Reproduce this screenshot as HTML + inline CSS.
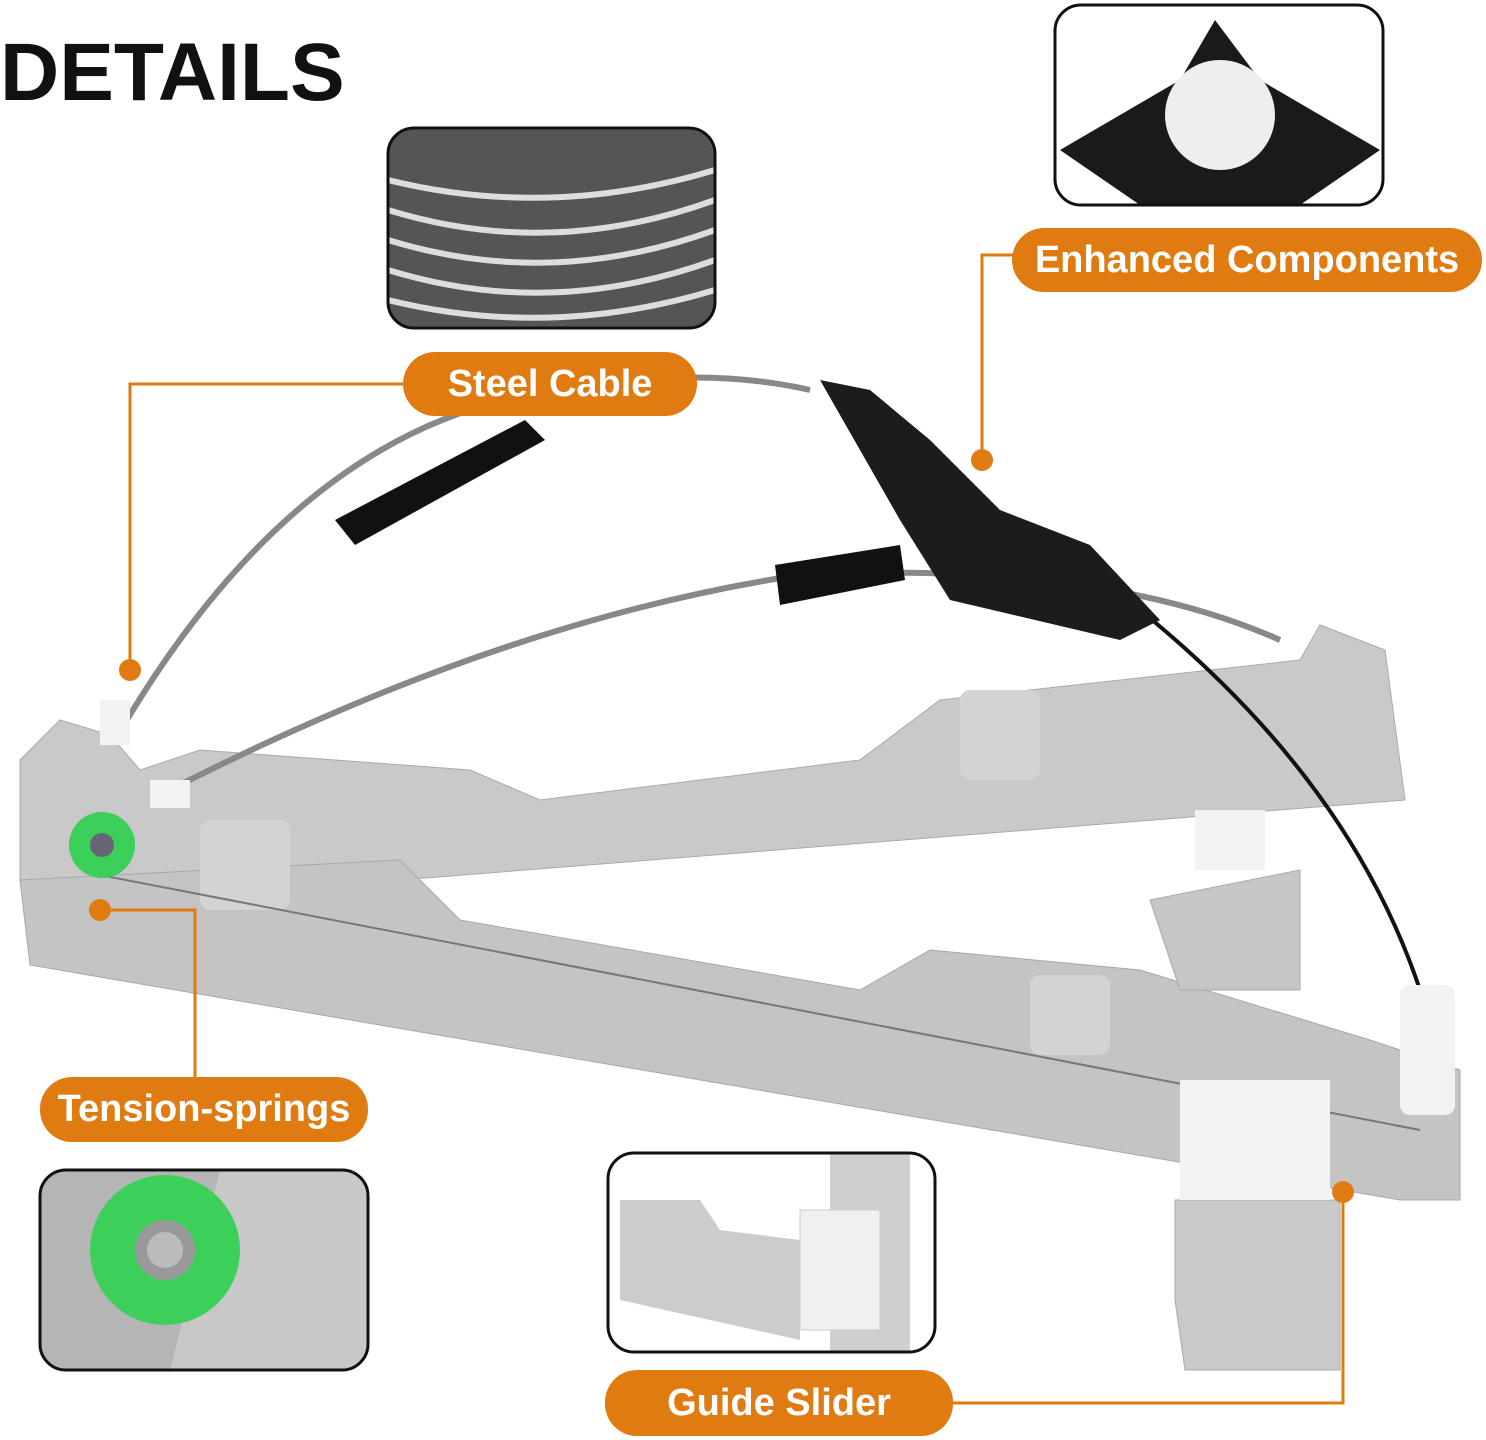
<!DOCTYPE html>
<html><head><meta charset="utf-8"><style>
body{margin:0;width:1486px;height:1440px;background:#fff;overflow:hidden;font-family:"Liberation Sans",sans-serif}
.pill{position:absolute;background:#e07b12;color:#fff;border-radius:32px;display:flex;align-items:center;justify-content:center;font-size:38px;font-weight:bold}
</style></head><body>
<svg width="1486" height="1440" style="position:absolute;left:0;top:0">
<defs>
<clipPath id="c1"><rect x="388" y="128" width="327" height="200" rx="26"/></clipPath>
<clipPath id="c2"><rect x="1055" y="5" width="328" height="200" rx="26"/></clipPath>
<clipPath id="c3"><rect x="40" y="1170" width="328" height="200" rx="26"/></clipPath>
<clipPath id="c4"><rect x="608" y="1153" width="327" height="199" rx="26"/></clipPath>
</defs>
<text x="0" y="100" font-family="Liberation Sans" font-weight="bold" font-size="82" fill="#111">DETAILS</text>
<!-- rails -->
<polygon points="20,760 60,720 110,735 140,770 200,750 470,770 540,800 860,760 940,700 1300,660 1320,625 1385,650 1405,800 400,880 20,880" fill="#c9c9c9" stroke="#aaa"/>
<polygon points="20,880 400,860 460,920 860,990 930,950 1140,970 1370,1040 1460,1070 1460,1200 1400,1200 30,965" fill="#c4c4c4" stroke="#a8a8a8"/>
<polygon points="1175,1200 1340,1200 1340,1370 1185,1370 1175,1300" fill="#c9c9c9" stroke="#aaa"/>
<polygon points="1150,900 1300,870 1300,990 1180,990" fill="#c6c6c6" stroke="#aaa"/>
<rect x="960" y="690" width="80" height="90" rx="10" fill="#d3d3d3"/>
<rect x="1030" y="975" width="80" height="80" rx="10" fill="#d3d3d3"/>
<rect x="200" y="820" width="90" height="90" rx="10" fill="#d3d3d3"/>
<!-- cables -->
<path d="M115,740 Q300,420 560,390 Q700,365 810,390" fill="none" stroke="#888" stroke-width="6"/>
<path d="M160,795 Q500,620 800,575 Q1100,560 1280,640" fill="none" stroke="#888" stroke-width="6"/>
<path d="M1140,610 Q1350,780 1420,990" fill="none" stroke="#111" stroke-width="4"/>
<path d="M100,875 L1420,1130" stroke="#777" stroke-width="2"/>
<path d="M335,520 L525,420 L545,440 L355,545Z" fill="#111"/>
<path d="M775,565 L900,545 L905,580 L780,605Z" fill="#111"/>
<polygon points="820,380 870,390 930,440 1000,510 1090,545 1160,620 1120,640 950,600 900,520" fill="#1c1c1c"/>
<!-- white pieces -->
<rect x="1195" y="810" width="70" height="60" fill="#f2f2f2"/>
<rect x="1180" y="1080" width="150" height="120" fill="#f2f2f2"/>
<rect x="1400" y="985" width="55" height="130" rx="10" fill="#f2f2f2"/>
<rect x="100" y="700" width="30" height="45" fill="#f2f2f2"/>
<rect x="150" y="780" width="40" height="28" fill="#f2f2f2"/>
<circle cx="102" cy="845" r="33" fill="#3ccf5a"/><circle cx="102" cy="845" r="12" fill="#667"/>
<!-- insets -->
<g clip-path="url(#c1)"><rect x="388" y="128" width="327" height="200" fill="#555"/>
<path d="M388,180 Q550,220 715,170 M388,210 Q550,260 715,200 M388,240 Q550,290 715,230 M388,270 Q550,320 715,260 M388,300 Q550,340 715,290" stroke="#ddd" stroke-width="6" fill="none"/></g>
<rect x="388" y="128" width="327" height="200" rx="26" fill="none" stroke="#111" stroke-width="3"/>
<g clip-path="url(#c2)"><rect x="1055" y="5" width="328" height="200" fill="#fff"/>
<polygon points="1060,150 1180,80 1215,20 1260,80 1380,150 1300,205 1140,205" fill="#1a1a1a"/>
<circle cx="1220" cy="115" r="55" fill="#eee"/></g>
<rect x="1055" y="5" width="328" height="200" rx="26" fill="none" stroke="#111" stroke-width="3"/>
<g clip-path="url(#c3)"><rect x="40" y="1170" width="328" height="200" fill="#c8c8c8"/>
<polygon points="40,1170 220,1170 170,1370 40,1370" fill="#b5b5b5"/>
<circle cx="165" cy="1250" r="75" fill="#3ccf5a"/><circle cx="165" cy="1250" r="30" fill="#999"/><circle cx="165" cy="1250" r="18" fill="#bbb"/></g>
<rect x="40" y="1170" width="328" height="200" rx="26" fill="none" stroke="#111" stroke-width="3"/>
<g clip-path="url(#c4)"><rect x="608" y="1153" width="327" height="199" fill="#fff"/>
<rect x="830" y="1153" width="80" height="199" fill="#cfcfcf"/>
<polygon points="620,1200 700,1200 720,1230 800,1240 800,1340 620,1300" fill="#ccc"/>
<rect x="800" y="1210" width="80" height="120" fill="#f0f0f0" stroke="#ccc"/></g>
<rect x="608" y="1153" width="327" height="199" rx="26" fill="none" stroke="#111" stroke-width="3"/>
<!-- leader lines -->
<g stroke="#e07b12" stroke-width="3" fill="none">
<path d="M405,384 H130 V670"/>
<path d="M1014,255 H982 V460"/>
<path d="M100,910 H195 V1078"/>
<path d="M1343,1192 V1403 H952"/>
</g>
<g fill="#e07b12"><circle cx="130" cy="670" r="11"/><circle cx="982" cy="460" r="11"/><circle cx="100" cy="910" r="11"/><circle cx="1343" cy="1192" r="11"/></g>
</svg>
<div class="pill" style="left:1012px;top:228px;width:470px;height:64px">Enhanced Components</div>
<div class="pill" style="left:403px;top:352px;width:294px;height:64px">Steel Cable</div>
<div class="pill" style="left:40px;top:1077px;width:328px;height:65px">Tension-springs</div>
<div class="pill" style="left:605px;top:1370px;width:348px;height:66px">Guide Slider</div>
</body></html>
